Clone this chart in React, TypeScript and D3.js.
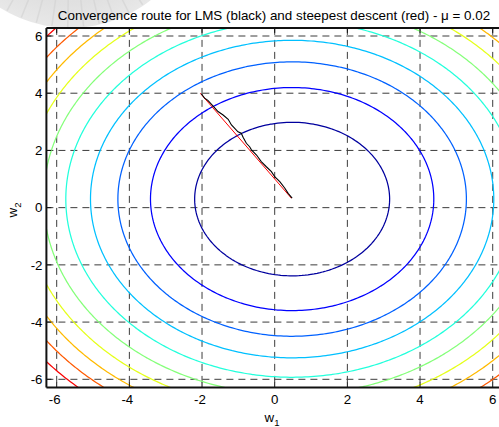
import React from 'react';
import * as d3 from 'd3';

// axis ticks
const X_TICKS = [-6, -4, -2, 0, 2, 4, 6];
const Y_TICKS = [-6, -4, -2, 0, 2, 4, 6];

// error surface J(w) = (w - wo)' R (w - wo), contour levels
const W_OPT = [0.48, 0.3];
const R_MATRIX = [
  [1, 0],
  [0, 1],
];
const LEVELS = [7.2, 15.2, 23, 30.8, 38.8, 46.8, 54.6, 62.4, 70.2, 78];
// J range that the jet colormap spans
const COLOR_DOMAIN = [4.7, 88];

// LMS route (black)
const LMS_W1 = [-2.02, -1.93, -1.84, -1.7, -1.56, -1.42, -1.28, -1.19, -1.01, -0.92, -0.87, -0.78, -0.69, -0.64, -0.5, -0.37, -0.23, -0.09, 0.0, 0.14, 0.28, 0.37, 0.48];
const LMS_W2 = [3.98, 3.83, 3.75, 3.56, 3.36, 3.24, 3.09, 2.89, 2.65, 2.6, 2.46, 2.25, 2.13, 2.02, 1.84, 1.61, 1.43, 1.26, 1.08, 0.91, 0.68, 0.5, 0.33];

// steepest descent route (red)
const SD_W1 = [-2.05, 0.46];
const SD_W2 = [4.0, 0.33];

const TITLE = 'Convergence route for LMS (black) and steepest descent (red) - \u03bc = 0.02';

const W = 499;
const H = 427;
const LIM = 2 * Math.PI;
const FONT = '"Liberation Sans", Arial, Helvetica, sans-serif';

const x = d3.scaleLinear().domain([-LIM, LIM]).range([46.4, 503]);
const y = d3.scaleLinear().domain([-LIM, LIM]).range([387.4, 27.9]);
const cScale = d3.scaleLinear().domain(COLOR_DOMAIN).range([0, 1]);

const J = (w1: number, w2: number) => {
  const a = w1 - W_OPT[0];
  const b = w2 - W_OPT[1];
  return a * (R_MATRIX[0][0] * a + R_MATRIX[0][1] * b) + b * (R_MATRIX[1][0] * a + R_MATRIX[1][1] * b);
};

// matlab jet
const jet = (t: number) => {
  const c = (v: number) => Math.round(255 * Math.max(0, Math.min(1, v)));
  const r = Math.min(4 * t - 1.5, -4 * t + 4.5);
  const g = Math.min(4 * t - 0.5, -4 * t + 3.5);
  const b = Math.min(4 * t + 0.5, -4 * t + 2.5);
  return `rgb(${c(r)},${c(g)},${c(b)})`;
};

// evaluation grid, larger than the axes so no edge artefacts show
const G0 = -10;
const GN = 241;
const STEP = 20 / (GN - 1);
const gridValues: number[] = [];
for (let j = 0; j < GN; j++) {
  for (let i = 0; i < GN; i++) gridValues.push(-J(G0 + i * STEP, G0 + j * STEP));
}
const contourSets = d3.contours().size([GN, GN]).thresholds(LEVELS.map((l) => -l))(gridValues);
const proj = d3.geoTransform({
  point(px: number, py: number) {
    this.stream.point(x(G0 + (px - 0.5) * STEP), y(G0 + (py - 0.5) * STEP));
  },
});
const contourPath = d3.geoPath(proj);

function route(w1: number[], w2: number[]) {
  return d3
    .line<number>()
    .x((d) => x(d))
    .y((_, i) => y(w2[i]))(w1) as string;
}

export default function App() {
  const [x0, x1] = x.range();
  const [y0, y1] = y.range();
  return (
    <svg width={W} height={H} style={{ position: 'absolute', left: 0, top: 0, background: '#fff' }} fontFamily={FONT}>
      <defs>
        <clipPath id="plot">
          <rect x={x0} y={y1} width={x1 - x0} height={y0 - y1} />
        </clipPath>
        <radialGradient id="blob" cx="0.5" cy="0.5" r="0.5">
          <stop offset="0%" stopColor="#f0f0f0" />
          <stop offset="80%" stopColor="#e0e0e0" />
          <stop offset="100%" stopColor="#e8e8e8" />
        </radialGradient>
      </defs>
      <rect width={W} height={H} fill="#fff" />
      {/* faded background image in the corner */}
      <circle cx={70} cy={-103} r={131} fill="url(#blob)" />
      {d3.range(0, 360, 7).map((a) => (
        <line
          key={a}
          x1={70 + 90 * Math.cos((a * Math.PI) / 180)}
          y1={-103 + 90 * Math.sin((a * Math.PI) / 180)}
          x2={70 + 130 * Math.cos((a * Math.PI) / 180)}
          y2={-103 + 130 * Math.sin((a * Math.PI) / 180)}
          stroke="#d2d2d2"
          strokeWidth={1.5}
          opacity={0.6}
        />
      ))}
      <rect x={x0} y={y1} width={x1 - x0} height={y0 - y1} fill="#fff" />

      <g clipPath="url(#plot)">
        {X_TICKS.map((t) => (
          <line key={'gx' + t} x1={x(t)} x2={x(t)} y1={y1} y2={y0} stroke="#3c3c3c" strokeDasharray="7,5" />
        ))}
        {Y_TICKS.map((t) => (
          <line key={'gy' + t} x1={x0} x2={x1} y1={y(t)} y2={y(t)} stroke="#3c3c3c" strokeDasharray="7,5" />
        ))}
        {contourSets.map((c) => (
          <path key={c.value} d={contourPath(c) || ''} fill="none" stroke={jet(cScale(-c.value))} strokeWidth={1.25} />
        ))}
        <path d={route(SD_W1, SD_W2)} fill="none" stroke="#ff0000" strokeWidth={1} />
        <path d={route(LMS_W1, LMS_W2)} fill="none" stroke="#000" strokeWidth={1.1} />
      </g>

      {/* axes box + inward ticks */}
      <line x1={x0} x2={x1} y1={y1} y2={y1} stroke="#111" strokeWidth={2} />
      <line x1={x0} x2={x1} y1={y0} y2={y0} stroke="#111" strokeWidth={2} />
      <line x1={x0} x2={x0} y1={y1} y2={y0} stroke="#111" strokeWidth={2} />
      {X_TICKS.map((t) => (
        <g key={'tx' + t}>
          <line x1={x(t)} x2={x(t)} y1={y0} y2={y0 - 5} stroke="#111" />
          <line x1={x(t)} x2={x(t)} y1={y1} y2={y1 + 5} stroke="#111" />
          <text x={x(t) - (t < 0 ? 2 : 0)} y={404} fontSize={13.3} textAnchor="middle" fill="#000">
            {t}
          </text>
        </g>
      ))}
      {Y_TICKS.map((t) => (
        <g key={'ty' + t}>
          <line x1={x0} x2={x0 + 5} y1={y(t)} y2={y(t)} stroke="#111" />
          <text x={42.5} y={y(t)} dy="0.35em" fontSize={13.3} textAnchor="end" fill="#000">
            {t}
          </text>
        </g>
      ))}

      <text x={274} y={19.5} fontSize={13.4} textAnchor="middle" fill="#000">
        {TITLE}
      </text>
      <text x={272} y={422} fontSize={13.3} textAnchor="middle" fill="#000">
        w<tspan fontSize={9.5} dy={4}>1</tspan>
      </text>
      <text transform="translate(17,210) rotate(-90)" fontSize={13.3} textAnchor="middle" fill="#000">
        w<tspan fontSize={9.5} dy={4}>2</tspan>
      </text>
    </svg>
  );
}
